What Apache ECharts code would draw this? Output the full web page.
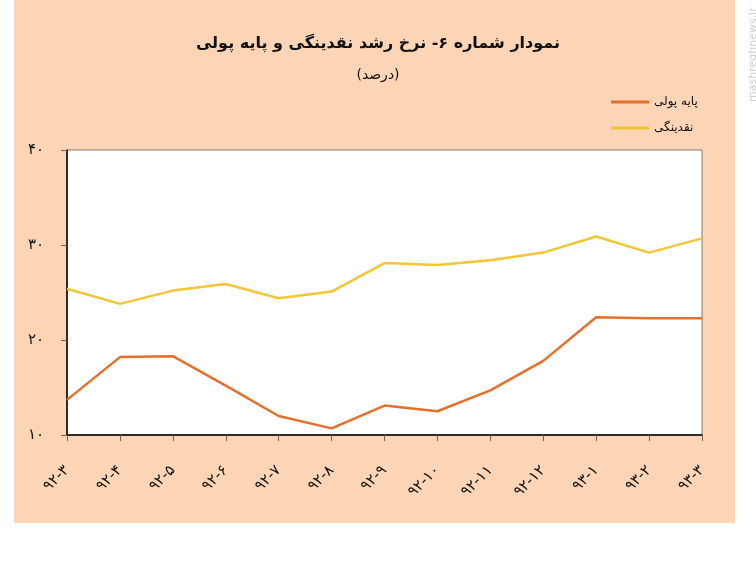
<!DOCTYPE html>
<html>
<head>
<meta charset="utf-8">
<script src="https://cdn.jsdelivr.net/npm/echarts@6/dist/echarts.min.js"></script>
<style>
html,body{margin:0;padding:0;background:#fff;}
#c{width:756px;height:568px;}
</style>
</head>
<body>
<div id="c"></div>
<script>
var categories = ['۹۲-۳','۹۲-۴','۹۲-۵','۹۲-۶','۹۲-۷','۹۲-۸','۹۲-۹','۹۲-۱۰','۹۲-۱۱','۹۲-۱۲','۹۳-۱','۹۳-۲','۹۳-۳'];
var baseMoney = [13.7, 18.2, 18.3, 15.2, 12.0, 10.7, 13.1, 12.5, 14.7, 17.8, 22.4, 22.3, 22.3];
var liquidity = [25.4, 23.8, 25.2, 25.9, 24.4, 25.1, 28.1, 27.9, 28.4, 29.2, 30.9, 29.2, 30.7];
var seriesNames = ['پایه پولی', 'نقدینگی'];
var yTickLabels = {10:'۱۰', 20:'۲۰', 30:'۳۰', 40:'۴۰'};
var titleText = 'نمودار شماره ۶- نرخ رشد نقدینگی و پایه پولی';
var subtitleText = '(درصد)';
var watermark = 'mashreghnews.ir';

var FONT = 'DejaVu Sans';
var chart = echarts.init(document.getElementById('c'), null, {renderer:'canvas'});
chart.setOption({
  animation: false,
  backgroundColor: '#ffffff',
  graphic: [
    {type:'rect', left:14, top:0, shape:{width:721, height:523}, style:{fill:'#FBD5B5'}, z:-10},
    {type:'text', left:'center', top:36, style:{text:titleText, font:'bold 16px "DejaVu Sans"', fill:'#111'}},
    {type:'text', left:'center', top:68, style:{text:subtitleText, font:'14px "DejaVu Sans"', fill:'#111'}},
    {type:'text', x:748, y:102, rotation:Math.PI/2, style:{text:watermark, font:'11px "DejaVu Sans"', fill:'#cfcfcf'}}
  ],
  legend: {
    orient:'vertical', left:606, top:91, itemGap:14,
    itemWidth:38, itemHeight:3, icon:'rect',
    textStyle:{fontFamily:FONT, fontSize:12, color:'#111'},
    data: seriesNames
  },
  grid: {left:67, right:54, top:150, bottom:133, show:true, backgroundColor:'#ffffff', borderColor:'#8a7a6a', borderWidth:1},
  xAxis: {
    type:'category', data:categories, boundaryGap:false,
    axisLine:{lineStyle:{color:'#000', width:1.5}},
    axisTick:{show:true, alignWithLabel:true, length:6, lineStyle:{color:'#6e6258'}},
    axisLabel:{rotate:45, margin:33, fontFamily:FONT, fontSize:15, color:'#111', interval:0},
    splitLine:{show:false}
  },
  yAxis: {
    type:'value', min:10, max:40, interval:10,
    axisLine:{show:true, lineStyle:{color:'#000', width:1.5}},
    axisTick:{show:true, length:6, lineStyle:{color:'#6e6258'}},
    axisLabel:{margin:23, fontFamily:FONT, fontSize:15, color:'#111', formatter:function(v){return yTickLabels[v]||'';}},
    splitLine:{show:false}
  },
  series: [
    {name:seriesNames[0], type:'line', data:baseMoney, symbol:'none', itemStyle:{color:'#E4702C'}, lineStyle:{color:'#E4702C', width:2.5}},
    {name:seriesNames[1], type:'line', data:liquidity, symbol:'none', itemStyle:{color:'#F4C534'}, lineStyle:{color:'#F4C534', width:2.5}}
  ]
});
</script>
</body>
</html>
